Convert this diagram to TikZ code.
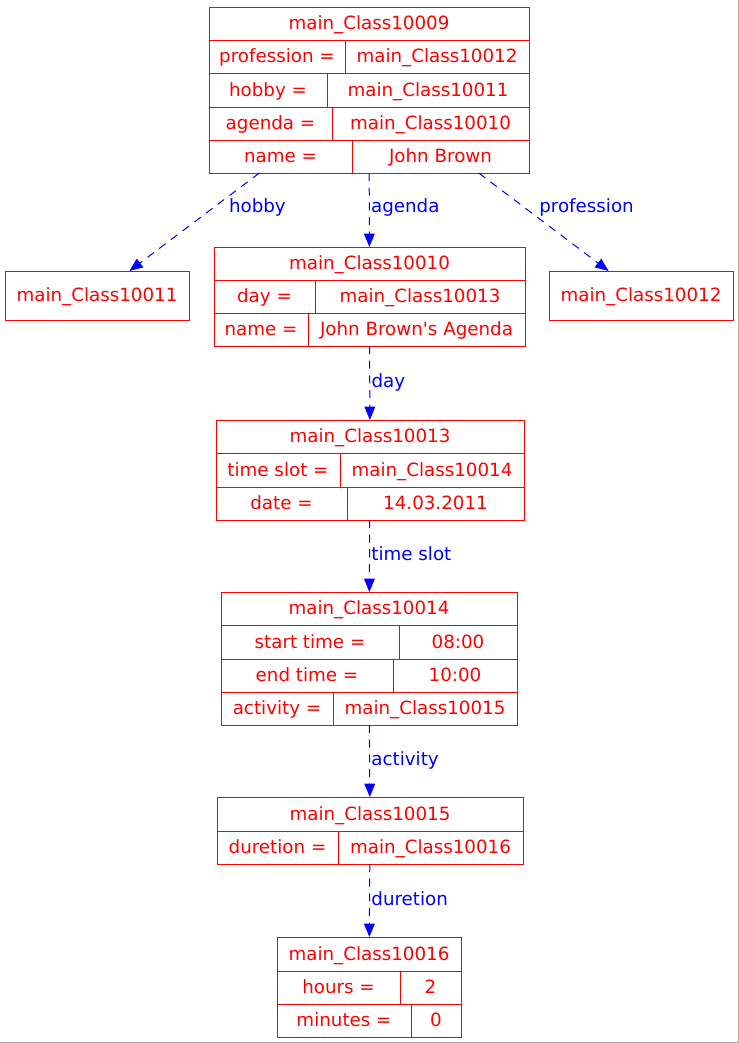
\documentclass[tikz,border=0pt]{standalone}
\usepackage{fontspec}
\setmainfont{DejaVu Sans}
\usetikzlibrary{fit,arrows.meta}

\tikzset{
  cell/.style={draw=red, line width=0.75pt, inner sep=0pt, outer sep=0pt},
  every label/.style={text=red, inner sep=0pt, text height=1.75ex, text depth=0.1ex},
  box/.style={inner sep=0pt, outer sep=0pt},
  link/.style={draw=blue, line width=0.75pt, dash pattern=on 6pt off 5pt,
    -{Triangle[length=10pt,width=8pt]}},
  lbl/.style={text=blue, inner sep=1pt},
}

\begin{document}
\begin{tikzpicture}[x=0.75pt, y=-0.75pt, font=\fontsize{13.7}{16}\selectfont]
    \fill[white] (0,0) rectangle (739,1043);
    \useasboundingbox (0,0) rectangle (739,1043);
    \draw[gray!70, line width=0.75pt] (738.5,0) -- (738.5,1042.5) -- (0,1042.5);

    % main_Class10009
    \node[cell, fit={(209,7) (529,40)}, label={center:main\_Class10009}] (c9t) {};
    \node[cell, fit={(209,40) (345,73)}, label={center:profession =}] (c9a) {};
    \node[cell, fit={(345,40) (529,73)}, label={center:main\_Class10012}] (c9av) {};
    \node[cell, fit={(209,73) (327,107)}, label={center:hobby =}] (c9b) {};
    \node[cell, fit={(327,73) (529,107)}, label={center:main\_Class10011}] (c9bv) {};
    \node[cell, fit={(209,107) (332,140)}, label={center:agenda =}] (c9c) {};
    \node[cell, fit={(332,107) (529,140)}, label={center:main\_Class10010}] (c9cv) {};
    \node[cell, fit={(209,140) (352,173)}, label={center:name =}] (c9d) {};
    \node[cell, fit={(352,140) (529,173)}, label={center:John Brown}] (c9dv) {};
    \node[box, fit=(c9t)(c9dv)] (c9) {};

    % main_Class10011, main_Class10012
    \node[cell, fit={(5,271) (189,320)}, label={center:main\_Class10011}] (c11) {};
    \node[cell, fit={(549,271) (733,320)}, label={center:main\_Class10012}] (c12) {};

    % main_Class10010
    \node[cell, fit={(214,247) (525,280)}, label={center:main\_Class10010}] (c10t) {};
    \node[cell, fit={(214,280) (315,313)}, label={center:day =}] (c10a) {};
    \node[cell, fit={(315,280) (525,313)}, label={center:main\_Class10013}] (c10av) {};
    \node[cell, fit={(214,313) (308,346)}, label={center:name =}] (c10b) {};
    \node[cell, fit={(308,313) (525,346)}, label={center:John Brown\textquotesingle s Agenda}] (c10bv) {};
    \node[box, fit=(c10t)(c10bv)] (c10) {};

    % main_Class10013
    \node[cell, fit={(216,420) (524,453)}, label={center:main\_Class10013}] (c13t) {};
    \node[cell, fit={(216,453) (340,487)}, label={center:time slot =}] (c13a) {};
    \node[cell, fit={(340,453) (524,487)}, label={center:main\_Class10014}] (c13av) {};
    \node[cell, fit={(216,487) (347,520)}, label={center:date =}] (c13b) {};
    \node[cell, fit={(347,487) (524,520)}, label={center:14.03.2011}] (c13bv) {};
    \node[box, fit=(c13t)(c13bv)] (c13) {};

    % main_Class10014
    \node[cell, fit={(221,592) (517,625)}, label={center:main\_Class10014}] (c14t) {};
    \node[cell, fit={(221,625) (399,659)}, label={center:start time =}] (c14a) {};
    \node[cell, fit={(399,625) (517,659)}, label={center:08:00}] (c14av) {};
    \node[cell, fit={(221,659) (393,692)}, label={center:end time =}] (c14b) {};
    \node[cell, fit={(393,659) (517,692)}, label={center:10:00}] (c14bv) {};
    \node[cell, fit={(221,692) (333,725)}, label={center:activity =}] (c14c) {};
    \node[cell, fit={(333,692) (517,725)}, label={center:main\_Class10015}] (c14cv) {};
    \node[box, fit=(c14t)(c14cv)] (c14) {};

    % main_Class10015
    \node[cell, fit={(217,797) (523,831)}, label={center:main\_Class10015}] (c15t) {};
    \node[cell, fit={(217,831) (338,864)}, label={center:duretion =}] (c15a) {};
    \node[cell, fit={(338,831) (523,864)}, label={center:main\_Class10016}] (c15av) {};
    \node[box, fit=(c15t)(c15av)] (c15) {};

    % main_Class10016
    \node[cell, fit={(277,937) (461,971)}, label={center:main\_Class10016}] (c16t) {};
    \node[cell, fit={(277,971) (400,1004)}, label={center:hours =}] (c16a) {};
    \node[cell, fit={(400,971) (461,1004)}, label={center:2}] (c16av) {};
    \node[cell, fit={(277,1004) (411,1037)}, label={center:minutes =}] (c16b) {};
    \node[cell, fit={(411,1004) (461,1037)}, label={center:0}] (c16bv) {};
    \node[box, fit=(c16t)(c16bv)] (c16) {};

    % links
    \draw[link] (c9) -- node[lbl, pos=0.35, right=10pt] {hobby} (c11);
    \draw[link] (c9) -- node[lbl, pos=0.35, right=10pt] {profession} (c12);
    \draw[link] (c9) -- node[lbl, pos=0.47, right] {agenda} (c10);
    \draw[link] (c10) -- node[lbl, pos=0.49, right] {day} (c13);
    \draw[link] (c13) -- node[lbl, pos=0.47, right] {time slot} (c14);
    \draw[link] (c14) -- node[lbl, pos=0.49, right] {activity} (c15);
    \draw[link] (c15) -- node[lbl, pos=0.47, right] {duretion} (c16);
\end{tikzpicture}
\end{document}
